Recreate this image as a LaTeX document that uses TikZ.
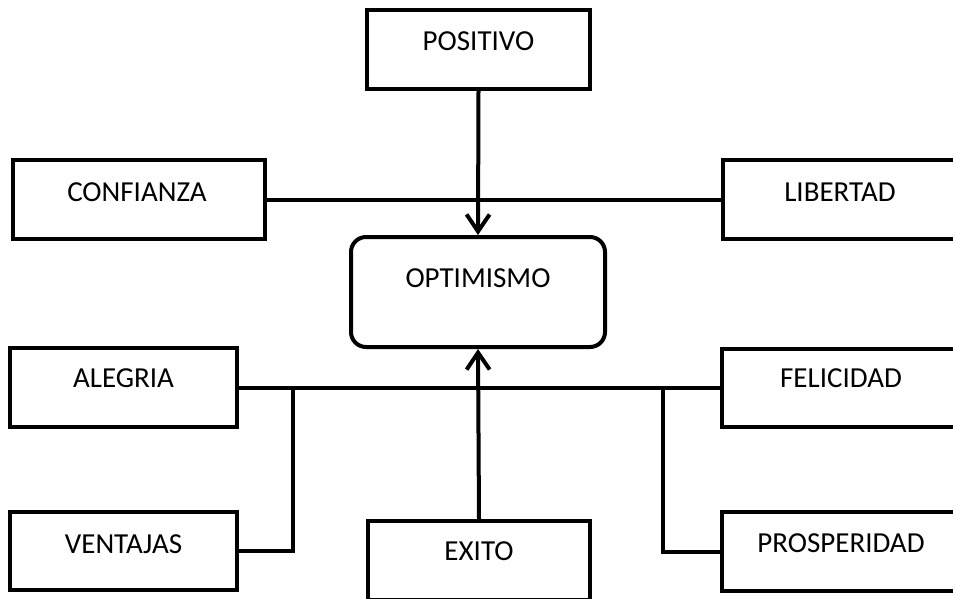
\documentclass[tikz,border=0pt]{standalone}
\usepackage{fontspec}
\setmainfont{Carlito}
\usetikzlibrary{arrows.meta}
\begin{document}
\begin{tikzpicture}[x=1pt,y=-1pt,
  box/.style={draw=black, line width=4pt, fill=white, minimum height=79pt, inner sep=0pt},
  word/.style={anchor=base, inner sep=0pt, font=\fontsize{29}{34}\selectfont},
  wire/.style={line width=4pt},
  arr/.style={wire, -{Straight Barb[length=17pt,width=23pt]}}]
\useasboundingbox (0,0) rectangle (953,598);
\clip (0,0) rectangle (953,598);
\fill[white] (0,0) rectangle (953,598);

% boxes
\node[box, minimum width=223pt] (pos) at (478.5,49.5) {};
\node[box, minimum width=252pt] (conf) at (139,199.5) {};
\node[box, minimum width=234pt] (lib) at (840,199.5) {};
\node[box, minimum width=254pt, minimum height=110pt, rounded corners=15pt] (opt) at (478,292) {};
\node[box, minimum width=227pt] (ale) at (123.5,387.5) {};
\node[box, minimum width=227pt, minimum height=78pt] (ven) at (123.5,551) {};
\node[box, minimum width=238pt, minimum height=78pt] (fel) at (841,387.5) {};
\node[box, minimum width=238pt] (pro) at (841,551.5) {};
\node[box, minimum width=222pt] (exi) at (479,560.5) {};

% labels
\node[word] (posT) at (478.5,50) {POSITIVO};
\node[word] (confT) at (137,201) {CONFIANZA};
\node[word] (libT) at (840,201) {LIBERTAD};
\node[word] (optT) at (478,287) {OPTIMISMO};
\node[word] (aleT) at (123.5,387) {ALEGRIA};
\node[word] (venT) at (123.5,553) {VENTAJAS};
\node[word] (felT) at (841,387) {FELICIDAD};
\node[word] (proT) at (841,552) {PROSPERIDAD};
\node[word] (exiT) at (479,560) {EXITO};

% connectors
\coordinate (jl) at (293,387.5);
\coordinate (jr) at (663,387.5);
\draw[arr] (pos.south) -- (opt.north);
\draw[arr] (exi.north) -- (opt.south);
\draw[wire] (conf.east) -- (lib.west);
\draw[wire] (ale.east) -- (fel.west);
\draw[wire] (ven.east) -| (jl);
\draw[wire] (pro.west) -| (jr);
\end{tikzpicture}
\end{document}
